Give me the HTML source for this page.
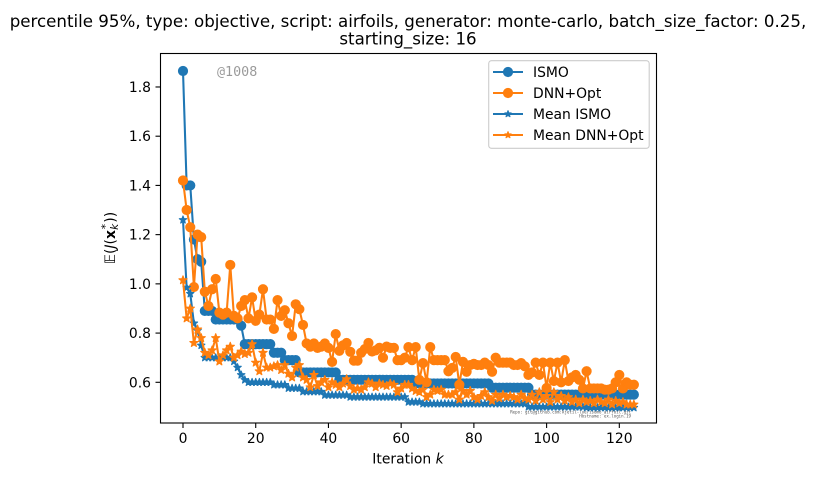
<!DOCTYPE html>
<html>
<head>
<meta charset="utf-8">
<title>Chart</title>
<style>
html,body{margin:0;padding:0;background:#fff;}
svg{display:block;font-family:"DejaVu Sans","Liberation Sans",sans-serif;}
</style>
</head>
<body>
<svg id="chart" xmlns="http://www.w3.org/2000/svg" width="816" height="477" viewBox="0 0 816 477">
  <rect width="816" height="477" fill="#fff"/>
  <text x="408" y="27" font-size="16.67" text-anchor="middle" fill="#000">percentile 95%, type: objective, script: airfoils, generator: monte-carlo, batch_size_factor: 0.25,</text>
  <text x="408" y="44.5" font-size="16.67" text-anchor="middle" fill="#000">starting_size: 16</text>
  <g id="marks"></g>
  <g id="axes"></g>
  <rect x="160.5" y="53.5" width="496" height="369.5" fill="none" stroke="#000" stroke-width="1.1"/>
  <text x="408" y="463.5" font-size="13.9" text-anchor="middle" fill="#000">Iteration <tspan font-style="italic">k</tspan></text>
  <text transform="translate(115,238) rotate(-90)" font-size="13.9" text-anchor="middle" fill="#000">𝔼(<tspan font-style="italic">J</tspan>(<tspan font-weight="bold">x</tspan><tspan font-size="10.5" dy="-6" dx="1">*</tspan><tspan font-size="10.5" font-style="italic" dy="9" dx="-6">k</tspan><tspan dy="-3" dx="1">))</tspan></text>
  <text x="217" y="76" font-family="'DejaVu Sans Mono','Liberation Mono',monospace" font-size="13.4" fill="#000" fill-opacity="0.4">@1008</text>
  <text x="631" y="413.5" font-family="'DejaVu Sans Mono','Liberation Mono',monospace" font-size="4.1" text-anchor="end" fill="#000" fill-opacity="0.7">Repo: git@github.com:kjetil-lye/isomo_airfoil.git</text>
  <text x="631" y="417.5" font-family="'DejaVu Sans Mono','Liberation Mono',monospace" font-size="4.1" text-anchor="end" fill="#000" fill-opacity="0.7">Hostname: ex.login.19</text>
  <g>
    <rect x="488.7" y="60.7" width="160.5" height="87.6" rx="2.8" fill="#fff" fill-opacity="0.8" stroke="#ccc" stroke-width="1.1"/>
    <g id="legend-keys"></g>
    <text x="533" y="77" font-size="13.9" fill="#000">ISMO</text>
    <text x="533" y="98" font-size="13.9" fill="#000">DNN+Opt</text>
    <text x="533" y="119" font-size="13.9" fill="#000">Mean ISMO</text>
    <text x="533" y="140" font-size="13.9" fill="#000">Mean DNN+Opt</text>
  </g>
</svg>
<script>
const xTicks = [0, 20, 40, 60, 80, 100, 120];
const yTicks = [0.6, 0.8, 1.0, 1.2, 1.4, 1.6, 1.8];
const ismo = [
1.865,1.40,1.40,1.18,1.10,1.09,0.89,0.89,0.89,0.855,
0.855,0.855,0.855,0.855,0.855,0.855,0.83,0.755,0.755,0.755,
0.755,0.755,0.755,0.755,0.755,0.72,0.72,0.72,0.69,0.69,
0.69,0.69,0.64,0.64,0.64,0.64,0.64,0.64,0.64,0.64,
0.64,0.64,0.64,0.61,0.61,0.61,0.61,0.61,0.61,0.61,
0.61,0.61,0.61,0.61,0.61,0.61,0.61,0.61,0.61,0.61,
0.61,0.61,0.61,0.61,0.595,0.595,0.595,0.595,0.595,0.595,
0.595,0.595,0.595,0.595,0.595,0.595,0.595,0.595,0.595,0.595,
0.595,0.595,0.595,0.595,0.595,0.578,0.578,0.578,0.578,0.578,
0.578,0.578,0.578,0.578,0.578,0.578,0.55,0.55,0.55,0.55,
0.55,0.55,0.55,0.55,0.55,0.55,0.55,0.55,0.55,0.55,
0.55,0.55,0.55,0.55,0.55,0.55,0.55,0.55,0.55,0.55,
0.55,0.55,0.55,0.55,0.55];
const dnnOpt = [
1.42,1.30,1.23,0.987,1.20,1.19,0.968,0.91,0.978,1.02,
0.883,0.875,0.883,1.077,0.87,0.86,0.91,0.934,0.86,0.945,
0.85,0.875,0.978,0.855,0.855,0.817,0.934,0.87,0.893,0.84,
0.788,0.917,0.897,0.833,0.758,0.745,0.758,0.74,0.745,0.758,
0.74,0.683,0.796,0.728,0.75,0.76,0.724,0.688,0.688,0.72,
0.735,0.76,0.725,0.73,0.74,0.70,0.745,0.74,0.74,0.69,
0.69,0.70,0.743,0.69,0.743,0.61,0.678,0.60,0.743,0.69,
0.69,0.69,0.69,0.645,0.658,0.703,0.59,0.683,0.643,0.67,
0.675,0.67,0.67,0.68,0.67,0.643,0.70,0.68,0.68,0.68,
0.68,0.67,0.67,0.678,0.665,0.63,0.64,0.68,0.63,0.68,
0.577,0.68,0.605,0.68,0.60,0.69,0.605,0.62,0.63,0.61,
0.575,0.645,0.575,0.575,0.575,0.575,0.57,0.57,0.575,0.60,
0.63,0.575,0.60,0.59,0.59];
const meanIsmo = [
1.26,0.985,0.96,0.84,0.81,0.75,0.70,0.70,0.70,0.70,
0.70,0.70,0.70,0.70,0.685,0.66,0.63,0.61,0.60,0.60,
0.60,0.60,0.60,0.60,0.60,0.59,0.59,0.59,0.59,0.576,
0.576,0.576,0.576,0.562,0.562,0.562,0.562,0.562,0.562,0.548,
0.548,0.548,0.548,0.548,0.548,0.548,0.54,0.54,0.54,0.54,
0.54,0.54,0.54,0.54,0.54,0.54,0.54,0.54,0.54,0.54,
0.54,0.54,0.52,0.52,0.52,0.52,0.513,0.513,0.513,0.513,
0.513,0.513,0.513,0.513,0.513,0.513,0.513,0.513,0.513,0.513,
0.513,0.513,0.513,0.513,0.513,0.513,0.513,0.513,0.513,0.513,
0.513,0.513,0.513,0.513,0.513,0.50,0.50,0.50,0.50,0.50,
0.50,0.50,0.50,0.50,0.50,0.50,0.50,0.50,0.50,0.50,
0.50,0.497,0.497,0.497,0.497,0.497,0.497,0.497,0.497,0.497,
0.497,0.497,0.497,0.497,0.497];
const meanDnnOpt = [
1.015,0.86,0.90,0.76,0.815,0.78,0.72,0.71,0.73,0.78,
0.685,0.71,0.73,0.745,0.70,0.71,0.725,0.715,0.72,0.755,
0.68,0.645,0.72,0.66,0.66,0.665,0.67,0.65,0.67,0.635,
0.62,0.66,0.67,0.62,0.61,0.58,0.63,0.585,0.60,0.61,
0.58,0.60,0.59,0.58,0.595,0.613,0.585,0.57,0.575,0.57,
0.58,0.60,0.595,0.58,0.595,0.59,0.585,0.595,0.59,0.56,
0.575,0.59,0.59,0.575,0.565,0.56,0.57,0.54,0.55,0.57,
0.565,0.57,0.55,0.55,0.55,0.56,0.53,0.565,0.55,0.565,
0.54,0.53,0.545,0.56,0.54,0.525,0.55,0.535,0.55,0.54,
0.545,0.54,0.53,0.55,0.535,0.53,0.55,0.525,0.56,0.53,
0.545,0.52,0.56,0.53,0.545,0.525,0.54,0.52,0.53,0.515,
0.53,0.52,0.525,0.515,0.53,0.52,0.515,0.53,0.51,0.525,
0.515,0.52,0.51,0.51,0.51];

const NS = 'http://www.w3.org/2000/svg';
const BLUE = '#1f77b4';
const ORANGE = '#ff7f0e';
function xScale(k) { return 183 + 3.636 * k; }
function yScale(v) { return 382.3 - (v - 0.6) * 246.1; }
function node(tag, parent) {
  const el = document.createElementNS(NS, tag);
  parent.appendChild(el);
  return el;
}
function starPoints(cx, cy, r) {
  const pts = [];
  for (let i = 0; i < 10; i++) {
    const rad = i % 2 === 0 ? r : r * 0.42;
    const a = -Math.PI / 2 + i * Math.PI / 5;
    pts.push((cx + rad * Math.cos(a)).toFixed(2) + ',' + (cy + rad * Math.sin(a)).toFixed(2));
  }
  return pts.join(' ');
}
function drawMarker(parent, kind, color, cx, cy, starRadius) {
  if (kind === 'circle') {
    const c = node('circle', parent);
    
    
    c.setAttribute('cx', cx);
    c.setAttribute('cy', cy);
    c.setAttribute('r', 4.4);
    c.setAttribute('fill', color);
    c.setAttribute('stroke', color);
    c.setAttribute('stroke-width', 1.39);
  } else {
    const s = node('polygon', parent);
    
    
    s.setAttribute('points', starPoints(cx, cy, starRadius));
    s.setAttribute('fill', color);
    s.setAttribute('stroke', color);
    s.setAttribute('stroke-width', 1.1);
    s.setAttribute('stroke-linejoin', 'round');
  }
}
function drawSeries(parent, values, color, kind, name, starRadius) {
  const g = node('g', parent);
  
  
  const line = node('polyline', g);
  
  
  line.setAttribute('points', values.map(function (v, k) {
    return xScale(k).toFixed(2) + ',' + yScale(v).toFixed(2);
  }).join(' '));
  line.setAttribute('fill', 'none');
  line.setAttribute('stroke', color);
  line.setAttribute('stroke-width', 2.08);
  line.setAttribute('stroke-linejoin', 'round');
  values.forEach(function (v, k) {
    drawMarker(g, kind, color, xScale(k), yScale(v), starRadius);
  });
}
const marks = document.getElementById('marks');
drawSeries(marks, ismo, BLUE, 'circle', 'series-ismo', 0);
drawSeries(marks, dnnOpt, ORANGE, 'circle', 'series-dnn-opt', 0);
drawSeries(marks, meanIsmo, BLUE, 'star', 'series-mean-ismo', 3.9);
drawSeries(marks, meanDnnOpt, ORANGE, 'star', 'series-mean-dnn-opt', 4.3);

const axes = document.getElementById('axes');
xTicks.forEach(function (t) {
  const x = xScale(t);
  const tick = node('line', axes);
  
  
  tick.setAttribute('x1', x);
  tick.setAttribute('x2', x);
  tick.setAttribute('y1', 423);
  tick.setAttribute('y2', 428);
  tick.setAttribute('stroke', '#000');
  tick.setAttribute('stroke-width', 1.1);
  const label = node('text', axes);
  
  
  label.setAttribute('x', x);
  label.setAttribute('y', 443);
  label.setAttribute('font-size', 13.9);
  label.setAttribute('text-anchor', 'middle');
  label.textContent = String(t);
});
yTicks.forEach(function (t) {
  const y = yScale(t);
  const tick = node('line', axes);
  
  
  tick.setAttribute('x1', 155.5);
  tick.setAttribute('x2', 160.5);
  tick.setAttribute('y1', y);
  tick.setAttribute('y2', y);
  tick.setAttribute('stroke', '#000');
  tick.setAttribute('stroke-width', 1.1);
  const label = node('text', axes);
  
  
  label.setAttribute('x', 151);
  label.setAttribute('y', y + 5);
  label.setAttribute('font-size', 13.9);
  label.setAttribute('text-anchor', 'end');
  label.textContent = t.toFixed(1);
});

const legendKeys = document.getElementById('legend-keys');
[[72, BLUE, 'circle'], [93, ORANGE, 'circle'], [114, BLUE, 'star'], [135, ORANGE, 'star']].forEach(function (row) {
  const key = node('line', legendKeys);
  
  
  key.setAttribute('x1', 493);
  key.setAttribute('x2', 523);
  key.setAttribute('y1', row[0]);
  key.setAttribute('y2', row[0]);
  key.setAttribute('stroke', row[1]);
  key.setAttribute('stroke-width', 2.08);
  drawMarker(legendKeys, row[2], row[1], 508, row[0], 3.3);
});
</script>
</body>
</html>
